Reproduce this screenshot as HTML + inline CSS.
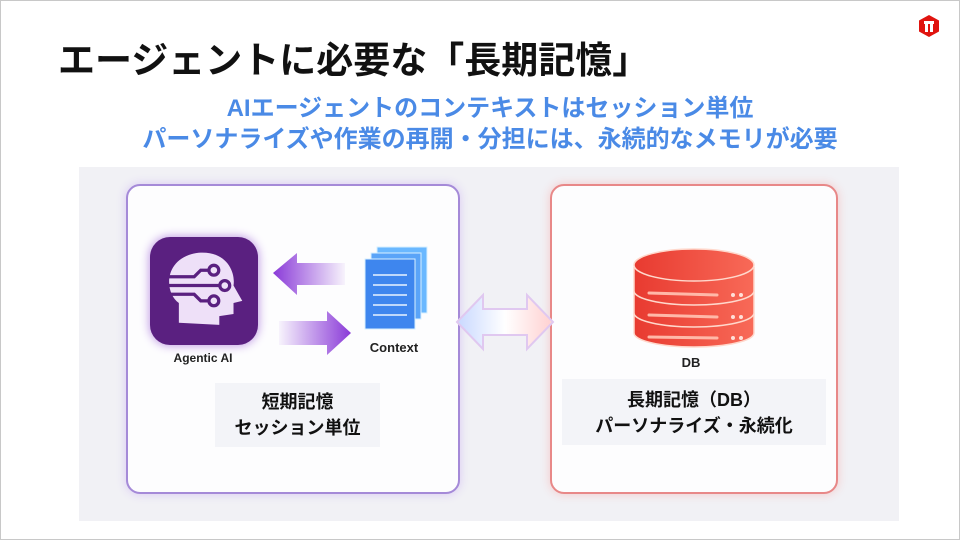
<!DOCTYPE html>
<html><head><meta charset="utf-8"><style>
body{margin:0;width:960px;height:540px;overflow:hidden;background:#fff;font-family:"Liberation Sans","Noto Sans CJK JP",sans-serif;}
.slide{position:absolute;left:0;top:0;width:958px;height:538px;border:1px solid #c8c8c8;background:#fff;}
.t{position:absolute;white-space:nowrap;font-weight:bold;}
</style></head><body><div class="slide">
<div class="t" style="left:57px;top:29px;font-size:37px;color:#111;">エージェントに必要な「長期記憶」</div>
<svg style="position:absolute;left:916px;top:13px" width="24" height="24" viewBox="0 0 24 24"><polygon points="12,1 22,6.5 22,17.5 12,23 2,17.5 2,6.5" fill="#e0140f"/><rect x="7" y="7" width="10" height="3" fill="#fff"/><rect x="8" y="10" width="3" height="8" fill="#fff"/><rect x="13" y="10" width="3" height="8" fill="#fff"/></svg>
<div class="t" style="left:0;width:978px;text-align:center;top:87px;font-size:24px;color:#4a8ae6;">AIエージェントのコンテキストはセッション単位</div>
<div class="t" style="left:0;width:978px;text-align:center;top:118px;font-size:24px;color:#4a8ae6;">パーソナライズや作業の再開・分担には、永続的なメモリが必要</div>
<div style="position:absolute;left:78px;top:166px;width:820px;height:354px;background:#f1f1f5;"></div>
<div style="position:absolute;left:125px;top:183px;width:330px;height:306px;border:2px solid #a58ad8;border-radius:14px;background:#fdfdfe;box-shadow:0 0 10px #d8c8f4;"></div>
<div style="position:absolute;left:549px;top:183px;width:284px;height:306px;border:2px solid #e88888;border-radius:14px;background:#fdfdfe;box-shadow:0 0 10px #f4c8c8;"></div>
<div style="position:absolute;left:149px;top:236px;width:108px;height:108px;border-radius:20px;background:#5a2080;box-shadow:0 0 10px #b488e0;"></div>
<svg style="position:absolute;left:156px;top:243px" width="94" height="94" viewBox="0 0 86 86"><path d="M20 72 L20 54 C6 44 6 12 38 8 C64 6 72 26 70 38 L78 52 L70 54 L70 64 L57 66 L57 74 Z" fill="#eee0f8"/><g stroke="#5a2080" stroke-width="3" fill="none"><path d="M10 30 H34 L40 24 H48"/><path d="M10 38 H58"/><path d="M10 46 H34 L40 52 H48"/></g><g fill="#eee0f8" stroke="#5a2080" stroke-width="3"><circle cx="52" cy="24" r="4.5"/><circle cx="62" cy="38" r="4.5"/><circle cx="52" cy="52" r="4.5"/></g></svg>
<div class="t" style="left:149px;top:350px;width:106px;text-align:center;font-size:12px;color:#222;">Agentic AI</div>
<svg style="position:absolute;left:270px;top:250px" width="80" height="110"><defs><linearGradient id="ga" x1="0" x2="1"><stop offset="0" stop-color="#8a3ad8"/><stop offset="1" stop-color="#8a3ad8" stop-opacity="0.05"/></linearGradient><linearGradient id="gb" x1="0" x2="1"><stop offset="0" stop-color="#8a3ad8" stop-opacity="0.05"/><stop offset="1" stop-color="#8a3ad8"/></linearGradient></defs><polygon points="2,22 26,2 26,12 74,12 74,34 26,34 26,44" fill="url(#ga)"/><polygon points="8,70 56,70 56,60 80,82 56,104 56,94 8,94" fill="url(#gb)"/></svg>
<svg style="position:absolute;left:362px;top:244px" width="80" height="92"><g><rect x="14" y="2" width="50" height="66" fill="#6ab8ff" stroke="#d8f0ff"/><rect x="8" y="8" width="50" height="66" fill="#5aa4f8" stroke="#d8f0ff"/><rect x="2" y="14" width="50" height="70" fill="#3e86ee" stroke="#d8f0ff"/></g><g stroke="#e8f4ff" stroke-width="1.5"><line x1="10" y1="30" x2="44" y2="30"/><line x1="10" y1="40" x2="44" y2="40"/><line x1="10" y1="50" x2="44" y2="50"/><line x1="10" y1="60" x2="44" y2="60"/><line x1="10" y1="70" x2="44" y2="70"/></g></svg>
<div class="t" style="left:355px;top:339px;width:76px;text-align:center;font-size:13px;color:#222;">Context</div>
<div style="position:absolute;left:214px;top:382px;width:165px;height:64px;background:#f3f4f8;"></div>
<div class="t" style="left:214px;top:388px;width:165px;text-align:center;font-size:18px;line-height:26px;color:#111;">短期記憶<br>セッション単位</div>
<svg style="position:absolute;left:452px;top:288px" width="104" height="66"><defs><linearGradient id="gd" x1="0" x2="1"><stop offset="0" stop-color="#c8d8ff"/><stop offset="0.5" stop-color="#fff"/><stop offset="1" stop-color="#ffd0d0"/></linearGradient></defs><polygon points="4,33 30,6 30,20 74,20 74,6 100,33 74,60 74,46 30,46 30,60" fill="url(#gd)" stroke="#e0c8f0" stroke-width="2"/></svg>
<svg style="position:absolute;left:628px;top:240px" width="130" height="110"><defs><linearGradient id="gr" x1="0" x2="1"><stop offset="0" stop-color="#e83a30"/><stop offset="1" stop-color="#f86a58"/></linearGradient></defs><g fill="url(#gr)" stroke="#ffd8cc" stroke-width="1.5"><path d="M5 72 v20 a60 14 0 0 0 120 0 v-20"/><path d="M5 50 v22 a60 14 0 0 0 120 0 v-22"/><path d="M5 26 v24 a60 14 0 0 0 120 0 v-24"/><ellipse cx="65" cy="24" rx="60" ry="16"/></g><g stroke="#ffb8a8" stroke-width="3" stroke-linecap="round"><line x1="20" y1="52" x2="88" y2="54"/><line x1="20" y1="74" x2="88" y2="76"/><line x1="20" y1="96" x2="88" y2="97"/></g><g fill="#ffe0d8"><circle cx="104" cy="54" r="2"/><circle cx="112" cy="54" r="2"/><circle cx="104" cy="76" r="2"/><circle cx="112" cy="76" r="2"/><circle cx="104" cy="97" r="2"/><circle cx="112" cy="97" r="2"/></g></svg>
<div class="t" style="left:660px;top:354px;width:60px;text-align:center;font-size:13px;color:#222;">DB</div>
<div style="position:absolute;left:561px;top:378px;width:264px;height:66px;background:#f3f4f8;"></div>
<div class="t" style="left:551px;top:386px;width:284px;text-align:center;font-size:18px;line-height:26px;color:#111;">長期記憶（DB）<br>パーソナライズ・永続化</div>
</div></body></html>
